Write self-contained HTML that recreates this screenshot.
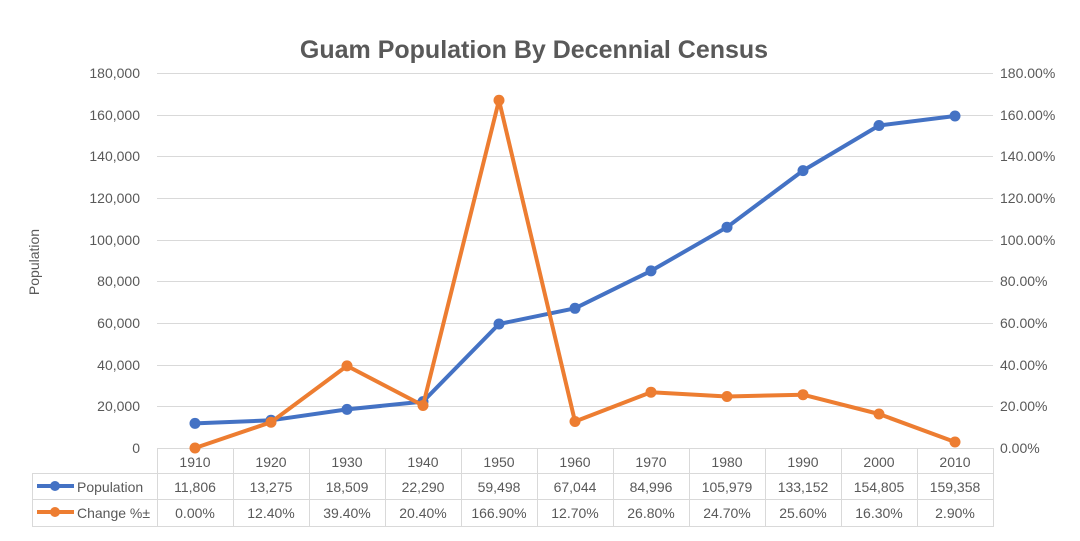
<!DOCTYPE html>
<html><head><style>
body{margin:0;background:#fff;}
svg text{font-family:"Liberation Sans",sans-serif;fill:#595959;}
</style></head><body>
<svg width="1080" height="536" viewBox="0 0 1080 536" xmlns="http://www.w3.org/2000/svg">
<rect width="1080" height="536" fill="#fff"/>
<text x="534" y="58" text-anchor="middle" font-size="25" font-weight="bold" style="fill:#595959">Guam Population By Decennial Census</text>
<g stroke="#d9d9d9" stroke-width="1">
<line x1="157" y1="73.5" x2="993" y2="73.5"/><line x1="157" y1="115.5" x2="993" y2="115.5"/>
<line x1="157" y1="156.5" x2="993" y2="156.5"/><line x1="157" y1="198.5" x2="993" y2="198.5"/>
<line x1="157" y1="240.5" x2="993" y2="240.5"/><line x1="157" y1="281.5" x2="993" y2="281.5"/>
<line x1="157" y1="323.5" x2="993" y2="323.5"/><line x1="157" y1="365.5" x2="993" y2="365.5"/>
<line x1="157" y1="406.5" x2="993" y2="406.5"/>
</g>
<g font-size="14" text-anchor="end">
<text x="140" y="78">180,000</text><text x="140" y="120">160,000</text><text x="140" y="161">140,000</text>
<text x="140" y="203">120,000</text><text x="140" y="245">100,000</text><text x="140" y="286">80,000</text>
<text x="140" y="328">60,000</text><text x="140" y="370">40,000</text><text x="140" y="411">20,000</text>
<text x="140" y="453">0</text>
</g>
<g font-size="14" text-anchor="start">
<text x="1000" y="78">180.00%</text><text x="1000" y="120">160.00%</text><text x="1000" y="161">140.00%</text>
<text x="1000" y="203">120.00%</text><text x="1000" y="245">100.00%</text><text x="1000" y="286">80.00%</text>
<text x="1000" y="328">60.00%</text><text x="1000" y="370">40.00%</text><text x="1000" y="411">20.00%</text>
<text x="1000" y="453">0.00%</text>
</g>
<text transform="translate(39,262) rotate(-90)" text-anchor="middle" font-size="14">Population</text>
<g stroke="#d9d9d9" stroke-width="1" fill="none">
<line x1="157" y1="448.5" x2="993" y2="448.5"/>
<line x1="32" y1="473.5" x2="993" y2="473.5"/>
<line x1="32" y1="499.5" x2="993" y2="499.5"/>
<line x1="32" y1="526.5" x2="993" y2="526.5"/>
<line x1="32.5" y1="473" x2="32.5" y2="527"/>
<line x1="157.5" y1="448" x2="157.5" y2="527"/><line x1="233.5" y1="448" x2="233.5" y2="527"/>
<line x1="309.5" y1="448" x2="309.5" y2="527"/><line x1="385.5" y1="448" x2="385.5" y2="527"/>
<line x1="461.5" y1="448" x2="461.5" y2="527"/><line x1="537.5" y1="448" x2="537.5" y2="527"/>
<line x1="613.5" y1="448" x2="613.5" y2="527"/><line x1="689.5" y1="448" x2="689.5" y2="527"/>
<line x1="765.5" y1="448" x2="765.5" y2="527"/><line x1="841.5" y1="448" x2="841.5" y2="527"/>
<line x1="917.5" y1="448" x2="917.5" y2="527"/><line x1="993.5" y1="448" x2="993.5" y2="527"/>
</g>
<g font-size="14" text-anchor="middle">
<text x="195" y="467">1910</text><text x="271" y="467">1920</text><text x="347" y="467">1930</text><text x="423" y="467">1940</text><text x="499" y="467">1950</text><text x="575" y="467">1960</text><text x="651" y="467">1970</text><text x="727" y="467">1980</text><text x="803" y="467">1990</text><text x="879" y="467">2000</text><text x="955" y="467">2010</text>
<text x="195" y="492">11,806</text><text x="271" y="492">13,275</text><text x="347" y="492">18,509</text><text x="423" y="492">22,290</text><text x="499" y="492">59,498</text><text x="575" y="492">67,044</text><text x="651" y="492">84,996</text><text x="727" y="492">105,979</text><text x="803" y="492">133,152</text><text x="879" y="492">154,805</text><text x="955" y="492">159,358</text>
<text x="195" y="518">0.00%</text><text x="271" y="518">12.40%</text><text x="347" y="518">39.40%</text><text x="423" y="518">20.40%</text><text x="499" y="518">166.90%</text><text x="575" y="518">12.70%</text><text x="651" y="518">26.80%</text><text x="727" y="518">24.70%</text><text x="803" y="518">25.60%</text><text x="879" y="518">16.30%</text><text x="955" y="518">2.90%</text>
</g>
<line x1="37" y1="486" x2="74" y2="486" stroke="#4472c4" stroke-width="4"/><circle cx="55" cy="486" r="5" fill="#4472c4"/>
<text x="77" y="492" font-size="14">Population</text>
<line x1="37" y1="512" x2="74" y2="512" stroke="#ed7d31" stroke-width="4"/><circle cx="55" cy="512" r="5" fill="#ed7d31"/>
<text x="77" y="518" font-size="14">Change %±</text>
<g fill="#4472c4">
<polyline fill="none" stroke="#4472c4" stroke-width="4" stroke-linejoin="round" points="195,423.4 271,420.3 347,409.4 423,401.6 499,324 575,308.3 651,270.9 727,227.2 803,170.6 879,125.5 955,116"/>
<circle cx="195" cy="423.4" r="5.5"/><circle cx="271" cy="420.3" r="5.5"/><circle cx="347" cy="409.4" r="5.5"/><circle cx="423" cy="401.6" r="5.5"/><circle cx="499" cy="324" r="5.5"/><circle cx="575" cy="308.3" r="5.5"/><circle cx="651" cy="270.9" r="5.5"/><circle cx="727" cy="227.2" r="5.5"/><circle cx="803" cy="170.6" r="5.5"/><circle cx="879" cy="125.5" r="5.5"/><circle cx="955" cy="116" r="5.5"/>
</g>
<g fill="#ed7d31">
<polyline fill="none" stroke="#ed7d31" stroke-width="4" stroke-linejoin="round" points="195,448 271,422.2 347,365.9 423,405.5 499,100.3 575,421.5 651,392.2 727,396.5 803,394.7 879,414 955,442"/>
<circle cx="195" cy="448" r="5.5"/><circle cx="271" cy="422.2" r="5.5"/><circle cx="347" cy="365.9" r="5.5"/><circle cx="423" cy="405.5" r="5.5"/><circle cx="499" cy="100.3" r="5.5"/><circle cx="575" cy="421.5" r="5.5"/><circle cx="651" cy="392.2" r="5.5"/><circle cx="727" cy="396.5" r="5.5"/><circle cx="803" cy="394.7" r="5.5"/><circle cx="879" cy="414" r="5.5"/><circle cx="955" cy="442" r="5.5"/>
</g>
</svg>
</body></html>
